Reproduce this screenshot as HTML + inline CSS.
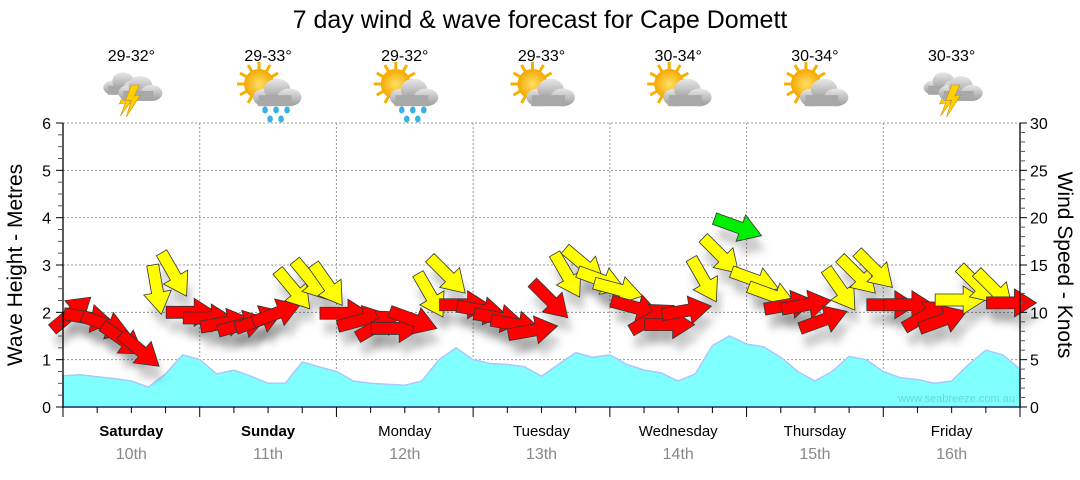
<!DOCTYPE html>
<html><head><meta charset="utf-8"><style>
html,body{margin:0;padding:0;background:#fff;}
body{width:1080px;height:475px;overflow:hidden;font-family:"Liberation Sans",sans-serif;}
svg text{font-family:"Liberation Sans","DejaVu Sans",sans-serif;}
</style></head><body>
<svg id="c" width="1080" height="475" xmlns="http://www.w3.org/2000/svg">
<defs>
<filter id="sh" x="-50%" y="-50%" width="200%" height="200%"><feGaussianBlur stdDeviation="4"/></filter>
<radialGradient id="sun" cx="50%" cy="50%" r="50%"><stop offset="0" stop-color="#ffe066"/><stop offset="1" stop-color="#f5a800"/></radialGradient>
<linearGradient id="cl" x1="0" y1="0" x2="0" y2="1"><stop offset="0" stop-color="#e8e8e8"/><stop offset="1" stop-color="#9a9a9a"/></linearGradient>
</defs>
<text x="540" y="28" font-size="25" text-anchor="middle" fill="#000">7 day wind &amp; wave forecast for Cape Domett</text>
<g id="grid"></g>
<g id="wave"></g>
<g id="shadows"></g>
<g id="arrows"></g>
<g id="axes"></g>
<g id="icons"></g>
<text x="1015" y="402" font-size="11" text-anchor="end" fill="#5fd8e0">www.seabreeze.com.au</text>
<text transform="translate(22,265) rotate(-90)" font-size="21" text-anchor="middle" fill="#000">Wave Height - Metres</text>
<text transform="translate(1058,265) rotate(90)" font-size="21" text-anchor="middle" fill="#000">Wind Speed - Knots</text>
</svg>
<script>
const days = ["Saturday","Sunday","Monday","Tuesday","Wednesday","Thursday","Friday"];
const dates = ["10th","11th","12th","13th","14th","15th","16th"];
const boldDays = [true,true,false,false,false,false,false];
const temps = ["29-32°","29-33°","29-32°","29-33°","30-34°","30-34°","30-33°"];
const icons = ["storm","sunrain","sunrain","suncloud","suncloud","suncloud","storm"];
const leftTicks = [0,1,2,3,4,5,6];
const rightTicks = [0,5,10,15,20,25,30];
const waveHeight = [0.66,0.68,0.64,0.6,0.55,0.42,0.7,1.1,1.0,0.7,0.78,0.65,0.5,0.5,0.95,0.85,0.75,0.55,0.5,0.48,0.46,0.55,1.0,1.25,1.0,0.92,0.9,0.85,0.65,0.9,1.15,1.05,1.1,0.9,0.78,0.72,0.55,0.7,1.3,1.5,1.33,1.27,1.05,0.75,0.55,0.75,1.07,1.0,0.75,0.62,0.58,0.5,0.55,0.9,1.2,1.1,0.8];
const windSpeed = [9.9,9.4,8.7,7.1,6.0,12.4,14.0,10.0,9.4,8.9,8.7,9.2,9.9,12.4,13.4,12.9,9.9,9.2,8.7,8.3,9.2,11.8,13.9,10.8,10.2,9.4,8.7,8.1,11.3,13.9,15.0,13.4,12.4,10.5,9.4,8.7,10.2,13.4,16.0,19.0,13.4,11.8,10.8,10.8,9.2,12.4,13.9,14.5,10.8,10.8,9.7,9.2,11.3,12.9,12.4,11.0];
const windDir = [-40,10,20,35,40,80,60,0,0,-10,-15,-20,-20,50,50,55,0,-15,-30,0,20,60,45,0,10,10,10,-10,45,60,40,20,15,15,-30,0,-10,60,45,20,20,20,-10,-10,-20,55,45,45,0,0,-30,-20,0,45,45,0];
const windColor = ["r","r","r","r","r","y","y","r","r","r","r","r","r","y","y","y","r","r","r","r","r","y","y","r","r","r","r","r","r","y","y","y","y","r","r","r","r","y","y","g","y","y","r","r","r","y","y","y","r","r","r","r","y","y","y","r"];

const NS="http://www.w3.org/2000/svg";
const X0=63, X1=1020, Y0=407, YT=123;
const dayW=(X1-X0)/7;
function xDay(d){return X0+d*dayW;}
function xStep(i){return X0+i*dayW/8;}
function yWave(m){return Y0-(m/6)*(Y0-YT);}
function yWind(k){return Y0-(k/30)*(Y0-YT);}
function mk(tag,attrs,parent){const e=document.createElementNS(NS,tag);for(const k in attrs)e.setAttribute(k,attrs[k]);parent.appendChild(e);return e;}

const grid=document.getElementById('grid');
for(const t of leftTicks){ if(t===0) continue;
  const l=mk('line',{x1:X0,x2:X1,y1:yWave(t),y2:yWave(t),stroke:'#999','stroke-dasharray':'2,2','stroke-width':1},grid);
  
  
}
for(let d=1;d<7;d++){
  const l=mk('line',{x1:xDay(d),x2:xDay(d),y1:YT,y2:Y0,stroke:'#999','stroke-dasharray':'2,2','stroke-width':1},grid);
  
  
}

const wg=document.getElementById('wave');
let d='M'+X0+','+Y0;
waveHeight.forEach((v,i)=>{d+=' L'+xStep(i).toFixed(1)+','+yWave(v).toFixed(1);});
d+=' L'+xStep(waveHeight.length-1).toFixed(1)+','+Y0+' Z';
const wa=mk('path',{d:d,fill:'#80ffff',stroke:'#a9c8ff','stroke-width':1.5},wg);



const ag=document.getElementById('arrows'), sg=document.getElementById('shadows');
const colors={r:'#ff0000',y:'#ffff00',g:'#00ee00'};
const shape='M-25,-6 L3,-6 L3,-14 L25,0 L3,14 L3,6 L-25,6 Z';
windSpeed.forEach((s,i)=>{
  const x=xStep(i)+dayW/16, y=yWind(s), a=windDir[i];
  const sh=mk('path',{d:shape,transform:`translate(${x+4},${y+14}) rotate(${a})`,fill:'#000','fill-opacity':0.2,filter:'url(#sh)'},sg);
  
  
  const p=mk('path',{d:shape,transform:`translate(${x},${y}) rotate(${a})`,fill:colors[windColor[i]],stroke:'#333','stroke-width':0.8},ag);
  
  
});

const ax=document.getElementById('axes');
let e;
e=mk('line',{x1:X0,x2:X0,y1:YT,y2:Y0+1,stroke:'#000','stroke-width':1.3},ax);


e=mk('line',{x1:X1,x2:X1,y1:YT,y2:Y0+1,stroke:'#000','stroke-width':1.3},ax);


e=mk('line',{x1:X0,x2:X1,y1:Y0,y2:Y0,stroke:'#0a3a6a','stroke-width':1.5},ax);


for(let m=0;m<=24;m++){
  const y=yWave(m/4), big=m%4===0;
  e=mk('line',{x1:X0-(big?7:5),x2:X0,y1:y,y2:y,stroke:big?'#000':'#555','stroke-width':1},ax);
  
  
}
for(const t of leftTicks){
  e=mk('text',{x:X0-12,y:yWave(t)+6,'font-size':16,'text-anchor':'end',fill:'#000'},ax);e.textContent=t;
  
  
}
for(let k=0;k<=30;k++){
  const y=yWind(k), big=k%5===0;
  e=mk('line',{x1:X1,x2:X1+(big?7:5),y1:y,y2:y,stroke:big?'#000':'#555','stroke-width':1},ax);
  
  
}
for(const t of rightTicks){
  e=mk('text',{x:X1+10,y:yWind(t)+6,'font-size':16,'text-anchor':'start',fill:'#000'},ax);e.textContent=t;
  
  
}
for(let q=0;q<=28;q++){
  const x=X0+q*dayW/4, big=q%4===0;
  e=mk('line',{x1:x,x2:x,y1:Y0,y2:Y0+(big?10:6),stroke:'#000','stroke-width':1},ax);
  
  
}
days.forEach((n,i)=>{
  const cx=xDay(i)+dayW/2;
  e=mk('text',{x:cx,y:436,'font-size':15,'text-anchor':'middle',fill:'#000','font-weight':boldDays[i]?'bold':'normal'},ax);e.textContent=n;
  
  
  e=mk('text',{x:cx,y:459,'font-size':16,'text-anchor':'middle',fill:'#888'},ax);e.textContent=dates[i];
  
  
  e=mk('text',{x:cx,y:61,'font-size':16,'text-anchor':'middle',fill:'#000'},ax);e.textContent=temps[i];
  
  
});

const ig=document.getElementById('icons');
function cloud(g,x,y,s){
  mk('ellipse',{cx:x-9*s,cy:y+4*s,rx:11*s,ry:8*s,fill:'url(#cl)'},g);
  mk('ellipse',{cx:x+2*s,cy:y-3*s,rx:12*s,ry:10*s,fill:'url(#cl)'},g);
  mk('ellipse',{cx:x+13*s,cy:y+4*s,rx:11*s,ry:8*s,fill:'url(#cl)'},g);
  mk('rect',{x:x-15*s,y:y+2*s,width:30*s,height:10*s,fill:'#a8a8a8'},g);
}
function sunG(g,x,y){
  for(let k=0;k<12;k++){const a=k*Math.PI/6;
    mk('line',{x1:x+Math.cos(a)*13,y1:y+Math.sin(a)*13,x2:x+Math.cos(a)*22,y2:y+Math.sin(a)*22,stroke:'#f5b000','stroke-width':3},g);}
  mk('circle',{cx:x,cy:y,r:15,fill:'url(#sun)'},g);
}
icons.forEach((t,i)=>{
  const cx=xDay(i)+dayW/2, cy=90;
  const g=mk('g',{},ig);
  
  
  if(t==='storm'){
    cloud(g,cx-10,cy-6,0.9);
    mk('path',{d:`M${cx-6},${cy} L${cx-12},${cy+14} L${cx-6},${cy+13} L${cx-11},${cy+26} L${cx+2},${cy+8} L${cx-4},${cy+9} L${cx+1},${cy} Z`,fill:'#ffd000',stroke:'#d09000','stroke-width':0.6},g);
    cloud(g,cx+7,cy-1,1.0);
    mk('path',{d:`M${cx},${cy-5} L${cx-6},${cy+11} L${cx},${cy+10} L${cx-5},${cy+27} L${cx+9},${cy+5} L${cx+3},${cy+6} L${cx+8},${cy-5} Z`,fill:'#ffd000',stroke:'#d09000','stroke-width':0.6},g);
  } else {
    sunG(g,cx-9,cy-6);
    cloud(g,cx+7,cy+3,1.1);
    if(t==='sunrain'){
      [[-3,20],[8,20],[19,20],[2,29],[13,29]].forEach(p=>mk('ellipse',{cx:cx+p[0],cy:cy+p[1],rx:2.8,ry:3.5,fill:'#3ab0e8'},g));
    }
  }
});
</script>
</body></html>
